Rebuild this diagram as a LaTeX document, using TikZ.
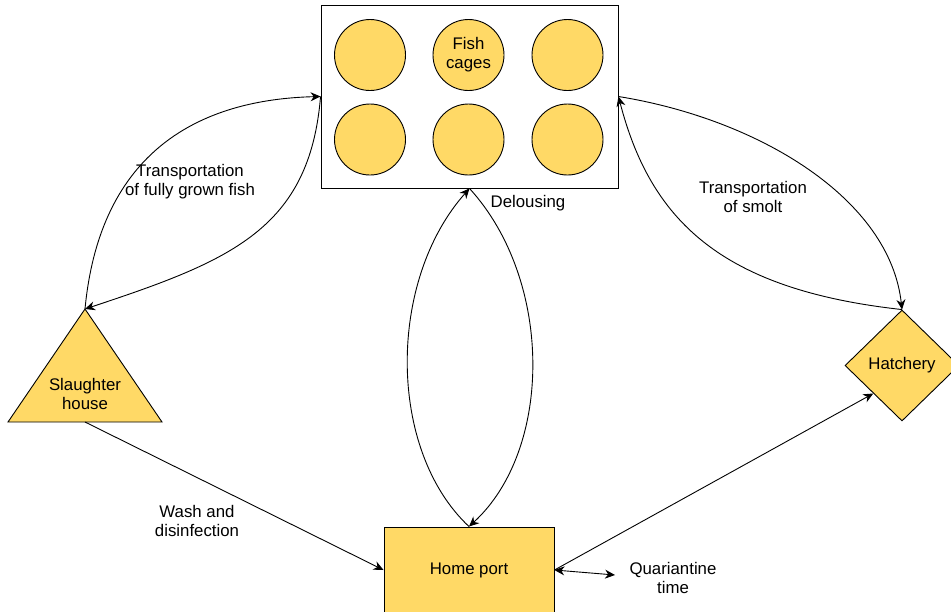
\documentclass[tikz,border=0pt]{standalone}
\usepackage{fontspec}
\setmainfont{Liberation Sans}
\usepackage{xcolor}
\definecolor{cageyellow}{HTML}{FFD966}
\usepackage{tikz}
\usetikzlibrary{arrows.meta, shapes.geometric}

\begin{document}
\begin{tikzpicture}[x=1pt, y=-1pt, line width=0.9pt,
    every node/.style={font=\fontsize{16.8}{19}\selectfont, align=center},
    >={Stealth[length=10pt, width=9pt]}]
    \useasboundingbox (0,0) rectangle (951,611);

    % The fish farm with its six cages
    \node[draw, fill=white, minimum width=297pt, minimum height=183pt, inner sep=0pt] (cages) at (469.5, 96.5) {};
    \foreach \i/\x in {1/370, 2/468.5, 3/567.5}
        \foreach \j/\y in {1/55, 2/139.5}
            \node[circle, draw, fill=cageyellow, minimum size=71pt, inner sep=0pt] (cage\i\j) at (\x, \y) {};
    \node (fishlabel) at (cage21) {Fish\\cages};

    % Slaughter house (triangle)
    \coordinate (SHtop) at (85, 309);
    \coordinate (SHbot) at (85, 422);
    \filldraw[fill=cageyellow] (SHtop) -- (162, 422) -- (8, 422) -- cycle;
    \node (slaughter) at (85, 394) {Slaughter\\house};

    % Hatchery and home port
    \node[diamond, draw, fill=cageyellow, minimum width=114pt, minimum height=111pt, inner sep=0pt] (hatchery) at (902, 365.5) {Hatchery};
    \node[draw, fill=cageyellow, minimum width=170pt, minimum height=86pt] (home) at (469, 570) {Home port};
    \coordinate (QT) at (615, 575);

    % Edge labels
    \node (lblgrown)   at (190, 182) {Transportation\\of fully grown fish};
    \node (lblsmolt)   at (753, 197) {Transportation\\of smolt};
    \node (lbldelouse) at (528, 203) {Delousing};
    \node (lblwash)    at (197, 521) {Wash and\\disinfection};
    \node (lblquar)    at (673, 578) {Quariantine\\time};

    % Transport routes
    \draw[->] (SHtop) .. controls +(15,-158) and +(-121,3) .. (cages.west);
    \draw[->] (cages.west) .. controls +(-11,133) and +(145,-48) .. (SHtop);
    \draw[->] (cages.east) .. controls +(142,23) and +(-12,-110) .. (hatchery.north);
    \draw[->] (hatchery.north) .. controls +(-182,-20) and +(32,123) .. (cages.east);
    \draw[->] (home.north) .. controls +(-82,-77) and +(-82,92) .. (cages.south);
    \draw[->] (cages.south) .. controls +(84,92) and +(84,-77) .. (home.north);
    \draw[->] (SHbot) -- (home.west);
    \draw[->] (home.east) -- (hatchery.south west);
    \draw[<->] (home.east) -- (QT);
\end{tikzpicture}
\end{document}
